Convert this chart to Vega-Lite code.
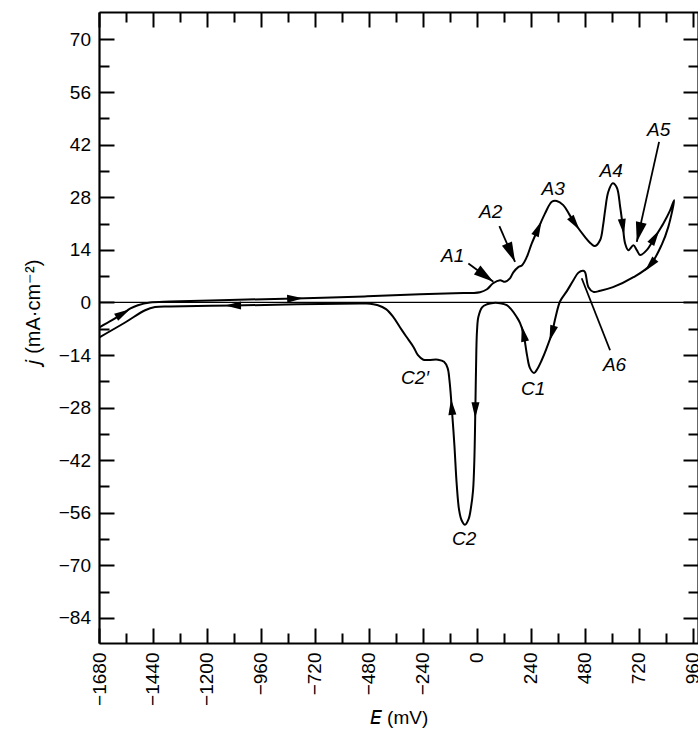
{
  "$schema": "https://vega.github.io/schema/vega-lite/v6.json",
  "width": 599,
  "height": 631,
  "autosize": "none",
  "padding": {"left": 99, "top": 12, "right": 0, "bottom": 92},
  "background": "white",
  "config": {"view": {"stroke": null}, "font": "Liberation Sans"},
  "datasets": {
    "curve": [
      {"i":1,"E":-1680,"j":-6.7},{"i":2,"E":-1622,"j":-4.74},{"i":3,"E":-1578,"j":-3.14},{"i":4,"E":-1540,"j":-1.6},{"i":5,"E":-1507,"j":-0.75},{"i":6,"E":-1453,"j":-0.03},{"i":7,"E":-1364,"j":0.24},{"i":8,"E":-1100,"j":0.65},{"i":9,"E":-808,"j":1.04},{"i":10,"E":-500,"j":1.6},{"i":11,"E":-253,"j":2.18},{"i":12,"E":-100,"j":2.45},{"i":13,"E":14,"j":2.72},{"i":14,"E":45,"j":3.5},{"i":15,"E":72,"j":5.1},{"i":16,"E":103,"j":5.9},{"i":17,"E":125,"j":5.5},{"i":18,"E":147,"j":6.4},{"i":19,"E":162,"j":8.0},{"i":20,"E":184,"j":9.4},{"i":21,"E":201,"j":9.9},{"i":22,"E":222,"j":12.1},{"i":23,"E":244,"j":15.7},{"i":24,"E":273,"j":19.7},{"i":25,"E":303,"j":23.7},{"i":26,"E":333,"j":26.8},{"i":27,"E":355,"j":27.0},{"i":28,"E":384,"j":25.9},{"i":29,"E":410,"j":23.5},{"i":30,"E":436,"j":21.0},{"i":31,"E":481,"j":17.4},{"i":32,"E":508,"j":15.6},{"i":33,"E":525,"j":15.0},{"i":34,"E":548,"j":16.6},{"i":35,"E":561,"j":20.5},{"i":36,"E":570,"j":24.5},{"i":37,"E":584,"j":29.4},{"i":38,"E":604,"j":31.7},{"i":39,"E":622,"j":30.6},{"i":40,"E":637,"j":25.4},{"i":41,"E":649,"j":20.1},{"i":42,"E":659,"j":15.7},{"i":43,"E":673,"j":13.9},{"i":44,"E":696,"j":15.2},{"i":45,"E":711,"j":13.9},{"i":46,"E":726,"j":12.6},{"i":47,"E":755,"j":13.9},{"i":48,"E":792,"j":17.4},{"i":49,"E":829,"j":21.0},{"i":50,"E":859,"j":24.5},{"i":51,"E":877,"j":27.2},
      {"i":52,"E":851,"j":20.1},{"i":53,"E":822,"j":15.4},{"i":54,"E":770,"j":9.9},{"i":55,"E":696,"j":6.7},{"i":56,"E":605,"j":4.05},{"i":57,"E":548,"j":3.1},{"i":58,"E":518,"j":2.8},{"i":59,"E":496,"j":4.05},{"i":60,"E":481,"j":8.0},{"i":61,"E":473,"j":8.4},{"i":62,"E":451,"j":7.9},{"i":63,"E":429,"j":5.9},{"i":64,"E":400,"j":3.0},{"i":65,"E":370,"j":0.3},{"i":66,"E":350,"j":-3.9},{"i":67,"E":333,"j":-8.3},{"i":68,"E":308,"j":-12.5},{"i":69,"E":288,"j":-15.4},{"i":70,"E":268,"j":-17.8},{"i":71,"E":254,"j":-18.8},{"i":72,"E":236,"j":-17.5},{"i":73,"E":223,"j":-14.1},{"i":74,"E":207,"j":-8.3},{"i":75,"E":192,"j":-5.5},{"i":76,"E":177,"j":-3.9},{"i":77,"E":152,"j":-1.8},{"i":78,"E":133,"j":-0.75},{"i":79,"E":103,"j":-0.2},{"i":80,"E":73,"j":-0.13},{"i":81,"E":45,"j":-0.5},{"i":82,"E":23,"j":-1.3},{"i":83,"E":6.5,"j":-3.9},{"i":84,"E":0.7,"j":-7.4},{"i":85,"E":-2.4,"j":-12.7},{"i":86,"E":-6.9,"j":-28.7},{"i":87,"E":-11.3,"j":-42},{"i":88,"E":-17,"j":-50},{"i":89,"E":-26,"j":-54.5},{"i":90,"E":-37,"j":-57.7},{"i":91,"E":-53,"j":-59.2},{"i":92,"E":-68,"j":-58},{"i":93,"E":-79,"j":-55.3},{"i":94,"E":-90,"j":-48.2},{"i":95,"E":-100,"j":-38},{"i":96,"E":-112,"j":-27.8},{"i":97,"E":-122,"j":-20.7},{"i":98,"E":-130,"j":-17.5},{"i":99,"E":-146,"j":-15.8},{"i":100,"E":-173,"j":-15.26},{"i":101,"E":-208,"j":-15.3},{"i":102,"E":-238,"j":-15.26},{"i":103,"E":-262,"j":-14.06},{"i":104,"E":-282,"j":-11.85},{"i":105,"E":-315,"j":-9.0},{"i":106,"E":-342,"j":-6.6},{"i":107,"E":-373,"j":-3.8},{"i":108,"E":-404,"j":-1.8},{"i":109,"E":-440,"j":-0.75},{"i":110,"E":-490,"j":-0.3},{"i":111,"E":-520,"j":-0.3},{"i":112,"E":-800,"j":-0.5},{"i":113,"E":-1084,"j":-0.85},{"i":114,"E":-1364,"j":-1.06},{"i":115,"E":-1431,"j":-1.22},{"i":116,"E":-1475,"j":-2.08},{"i":117,"E":-1564,"j":-5.35},{"i":118,"E":-1680,"j":-9.35}
    ],
    "arrows": [
      {"E":-1573,"j":-2.9,"a":60},{"E":-808,"j":1.04,"a":88},{"E":-1084,"j":-0.85,"a":270},{"E":273,"j":19.7,"a":24},{"E":436,"j":21.0,"a":145},{"E":649,"j":20.1,"a":172},{"E":792,"j":17.4,"a":32},{"E":770,"j":9.9,"a":221},{"E":333,"j":-8.3,"a":197},{"E":207,"j":-8.3,"a":348},{"E":-6.9,"j":-28.7,"a":181},{"E":-112,"j":-27.8,"a":355}
    ],
    "heads": [
      {"E":73.2,"j":5.48,"a":126},{"E":169.7,"j":10.78,"a":156},{"E":710.8,"j":16.1,"a":193}
    ],
    "pointers": [
      {"E1":-37.9,"j1":10.36,"E2":73.2,"j2":5.48},{"E1":99.9,"j1":20.29,"E2":169.7,"j2":10.78},{"E1":810,"j1":42.73,"E2":710.8,"j2":16.1},{"E1":466,"j1":6.44,"E2":592,"j2":-12.73}
    ],
    "labels": [
      {"t":"A1","E":-108,"j":12.3},{"t":"A2","E":61,"j":24.15},{"t":"A3","E":339,"j":30.3},{"t":"A4","E":597,"j":35.06},{"t":"A5","E":808,"j":45.85},{"t":"A6","E":612,"j":-16.7},{"t":"C1","E":250,"j":-23.1},{"t":"C2","E":-57,"j":-63.05},{"t":"C2′","E":-275,"j":-20.05}
    ]
  },
  "layer": [
    {
      "data": {"values": [{"z": 0}]},
      "mark": {"type": "rule", "color": "black", "strokeWidth": 1.3},
      "encoding": {
        "y": {"field": "z", "type": "quantitative", "scale": {"domain": [-90.66, 77.3], "nice": false, "zero": false}, "axis": null}
      }
    },
    {
      "data": {"name": "curve"},
      "mark": {"type": "line", "interpolate": "catmull-rom", "color": "black", "strokeWidth": 2, "clip": true},
      "encoding": {
        "x": {"field": "E", "type": "quantitative", "scale": {"domain": [-1680, 983], "nice": false, "zero": false},
          "axis": {"orient": "bottom", "values": [-1680,-1560,-1440,-1320,-1200,-1080,-960,-840,-720,-600,-480,-360,-240,-120,0,120,240,360,480,600,720,840,960],
            "format": "d", "labelExpr": "datum.value % 240 === 0 ? datum.label : ''", "labelAngle": -90, "labelAlign": "right", "labelBaseline": "middle",
            "labelFontSize": 19, "labelColor": "black", "labelPadding": 24, "labelFlush": false, "labelOverlap": false, "labelBound": false,
            "tickSize": {"expr": "datum.value % 240 === 0 ? -15 : -10"}, "tickWidth": 2, "tickColor": "black",
            "domainWidth": 2.2, "domainColor": "black", "grid": false,
            "title": "𝘌 (mV)", "titleFontSize": 19, "titleFontWeight": "normal", "titleColor": "black", "titlePadding": 3}},
        "y": {"field": "j", "type": "quantitative", "scale": {"domain": [-90.66, 77.3], "nice": false, "zero": false},
          "axis": {"orient": "left", "values": [-84,-77,-70,-63,-56,-49,-42,-35,-28,-21,-14,-7,0,7,14,21,28,35,42,49,56,63,70],
            "format": "d", "labelExpr": "datum.value % 14 === 0 ? datum.label : ''", "labelFontSize": 19, "labelColor": "black",
            "labelPadding": 23.5, "labelFlush": false, "labelOverlap": false, "labelBound": false,
            "tickSize": {"expr": "datum.value % 14 === 0 ? -15 : -10"}, "tickWidth": 2, "tickColor": "black",
            "domainWidth": 2.2, "domainColor": "black", "grid": false,
            "title": "𝘫 (mA·cm⁻²)", "titleFontSize": 20, "titleFontWeight": "normal", "titleColor": "black", "titlePadding": 15, "titleY": 300}},
        "order": {"field": "i", "type": "quantitative"}
      }
    },
    {
      "data": {"name": "pointers"},
      "mark": {"type": "rule", "color": "black", "strokeWidth": 1.8},
      "encoding": {
        "x": {"field": "E1", "type": "quantitative", "scale": {"domain": [-1680, 983], "nice": false, "zero": false}, "axis": null},
        "x2": {"field": "E2"},
        "y": {"field": "j1", "type": "quantitative", "scale": {"domain": [-90.66, 77.3], "nice": false, "zero": false}, "axis": null},
        "y2": {"field": "j2"}
      }
    },
    {
      "data": {"name": "arrows"},
      "mark": {"type": "point", "shape": "M0,-1L0.5,1L-0.5,1Z", "filled": true, "color": "black", "size": 256, "opacity": 1},
      "encoding": {
        "x": {"field": "E", "type": "quantitative", "scale": {"domain": [-1680, 983], "nice": false, "zero": false},
          "axis": {"orient": "top", "values": [-1680,-1560,-1440,-1320,-1200,-1080,-960,-840,-720,-600,-480,-360,-240,-120,0,120,240,360,480,600,720,840,960],
            "labels": false, "title": null, "tickSize": {"expr": "datum.value % 240 === 0 ? -15 : -10"}, "tickWidth": 2, "tickColor": "black",
            "domainWidth": 2.2, "domainColor": "black", "grid": false}},
        "y": {"field": "j", "type": "quantitative", "scale": {"domain": [-90.66, 77.3], "nice": false, "zero": false},
          "axis": {"orient": "right", "values": [-84,-77,-70,-63,-56,-49,-42,-35,-28,-21,-14,-7,0,7,14,21,28,35,42,49,56,63,70],
            "labels": false, "title": null, "tickSize": {"expr": "datum.value % 14 === 0 ? -15 : -10"}, "tickWidth": 2, "tickColor": "black",
            "domainWidth": 2.2, "domainColor": "black", "grid": false}},
        "angle": {"field": "a", "type": "quantitative", "scale": null}
      }
    },
    {
      "data": {"name": "heads"},
      "mark": {"type": "point", "shape": "M0,0L0.55,2L-0.55,2Z", "filled": true, "color": "black", "size": 400, "opacity": 1},
      "encoding": {
        "x": {"field": "E", "type": "quantitative", "scale": {"domain": [-1680, 983], "nice": false, "zero": false}, "axis": null},
        "y": {"field": "j", "type": "quantitative", "scale": {"domain": [-90.66, 77.3], "nice": false, "zero": false}, "axis": null},
        "angle": {"field": "a", "type": "quantitative", "scale": null}
      }
    },
    {
      "data": {"name": "labels"},
      "mark": {"type": "text", "font": "Liberation Sans", "fontStyle": "italic", "fontSize": 19, "color": "black", "align": "center", "baseline": "middle"},
      "encoding": {
        "x": {"field": "E", "type": "quantitative", "scale": {"domain": [-1680, 983], "nice": false, "zero": false}, "axis": null},
        "y": {"field": "j", "type": "quantitative", "scale": {"domain": [-90.66, 77.3], "nice": false, "zero": false}, "axis": null},
        "text": {"field": "t"}
      }
    }
  ],
  "resolve": {"axis": {"x": "independent", "y": "independent"}}
}
